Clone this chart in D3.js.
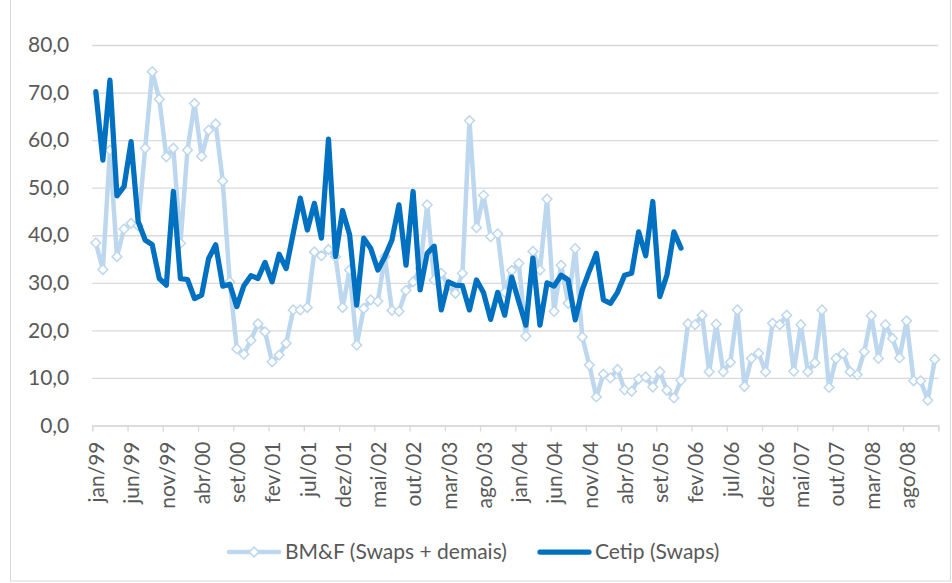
<!DOCTYPE html>
<html>
<head>
<meta charset="utf-8">
<script src="https://cdn.jsdelivr.net/npm/d3@7"></script>
<style>
  body { margin: 0; background: #fff; }
  #chart text { font-family: Lato, "Open Sans", sans-serif; fill: #595959; }
</style>
</head>
<body>
<div id="chart"></div>
<script>
// month names (pt-BR) and years -> 120 monthly categories jan/99 .. dez/08
var monthNames = ['jan', 'fev', 'mar', 'abr', 'mai', 'jun', 'jul', 'ago', 'set', 'out', 'nov', 'dez'];
var years = ['99', '00', '01', '02', '03', '04', '05', '06', '07', '08'];

var yTicks = [0, 10, 20, 30, 40, 50, 60, 70, 80];

// BM&F (Swaps + demais), jan/99 .. dez/08
var bmfValues = [
    38.4, 32.8, 57.9, 35.5, 41.3, 42.5, 42.0, 58.3, 74.4, 68.6, 56.5, 58.3,
    38.3, 57.9, 67.7, 56.6, 62.1, 63.4, 51.4, 30.2, 16.1, 15.0, 17.9, 21.4,
    19.7, 13.4, 14.8, 17.3, 24.3, 24.3, 24.8, 36.5, 35.7, 37.0, 35.5, 24.8,
    32.7, 16.9, 24.6, 26.4, 26.1, 35.5, 24.2, 24.0, 28.4, 30.2, 33.0, 46.4,
    30.6, 32.0, 29.4, 27.8, 32.0, 64.1, 41.6, 48.4, 39.7, 40.3, 28.0, 32.6,
    34.1, 18.8, 36.6, 32.7, 47.6, 24.0, 33.7, 25.7, 37.2, 18.6, 12.7, 6.0,
    10.8, 10.0, 11.8, 7.5, 7.2, 9.8, 10.2, 8.1, 11.3, 7.4, 5.8, 9.5,
    21.4, 21.2, 23.2, 11.3, 21.3, 11.3, 13.3, 24.3, 8.2, 14.1, 15.2, 11.3,
    21.5, 21.2, 23.2, 11.4, 21.2, 11.3, 13.2, 24.3, 8.0, 14.1, 15.1, 11.3,
    10.7, 15.5, 23.1, 14.1, 21.2, 18.3, 14.2, 22.0, 9.4, 9.4, 5.3, 13.9
];

// Cetip (Swaps), jan/99 .. dez/05
var cetipValues = [
    70.2, 55.8, 72.6, 48.3, 50.2, 59.7, 42.9, 39.0, 38.0, 30.9, 29.5, 49.2,
    30.9, 30.7, 26.7, 27.4, 35.1, 38.0, 29.3, 29.7, 25.0, 29.4, 31.5, 30.9,
    34.3, 30.2, 36.0, 33.0, 40.4, 47.8, 41.1, 46.7, 39.4, 60.2, 35.5, 45.2,
    40.1, 25.3, 39.4, 37.2, 32.7, 35.5, 39.0, 46.4, 33.7, 49.2, 28.5, 36.2,
    37.7, 24.3, 30.2, 29.5, 29.4, 24.3, 30.6, 27.9, 22.3, 28.0, 23.2, 31.2,
    26.0, 21.1, 35.2, 21.1, 30.0, 29.3, 31.6, 30.6, 22.2, 28.5, 32.5, 36.2,
    26.4, 25.7, 28.0, 31.6, 32.0, 40.7, 35.7, 47.1, 27.1, 31.6, 40.7, 37.3
];

var categories = [];
years.forEach(function (yy) {
    monthNames.forEach(function (m) { categories.push(m + '/' + yy); });
});

var seriesNames = ['BM&F (Swaps + demais)', 'Cetip (Swaps)'];
var lightBlue = '#BDD7EE',
    darkBlue = '#0070C0';

var width = 952,
    height = 583;

var svg = d3.select('#chart')
    .append('svg')
        .attr('width', width)
        .attr('height', height);

// outer chart border
svg.append('rect')
    .attr('x', 10.5)
    .attr('y', -2)
    .attr('width', 940)
    .attr('height', 583)
    .attr('fill', 'none')
    .attr('stroke', '#D9D9D9')
    .attr('stroke-width', 1);

var plotLeft = 92.3, plotRight = 938.3, plotTop = 45, plotBottom = 425.5;

var x = d3.scaleBand()
    .domain(categories)
    .range([plotLeft, plotRight])
    .paddingInner(0)
    .paddingOuter(0);
var xIdx = d3.scaleLinear().domain([0, categories.length]).range([plotLeft, plotRight]);
var y = d3.scaleLinear().domain([0, 80]).range([plotBottom, plotTop]);

function cx(i) { return x(categories[i]) + x.bandwidth() / 2; }

// y axis + gridlines
var yAxis = svg.append('g')
    .attr('transform', 'translate(' + plotLeft + ',0)')
    .call(d3.axisLeft(y)
        .tickValues(yTicks)
        .tickSize(-(plotRight - plotLeft))
        .tickPadding(23)
        .tickFormat(function (d) { return d3.format('.1f')(d).replace('.', ','); }));
yAxis.select('.domain').remove();
yAxis.selectAll('.tick line')
    .attr('stroke', '#D9D9D9')
    .attr('stroke-width', 1.3);
yAxis.selectAll('.tick text')
    .style('font-size', '21px');

// x axis tick marks (every 5 months, at category boundaries)
var xAxis = svg.append('g')
    .attr('transform', 'translate(0,' + plotBottom + ')')
    .call(d3.axisBottom(xIdx)
        .tickValues(d3.range(0, categories.length + 1, 5))
        .tickSize(6)
        .tickFormat(''));
xAxis.select('.domain')
    .attr('stroke', '#D9D9D9')
    .attr('stroke-width', 1.3);
xAxis.selectAll('.tick line')
    .attr('stroke', '#D9D9D9')
    .attr('stroke-width', 1.3);

// x labels, rotated, at category centers
var labelIdx = d3.range(0, categories.length, 5);
svg.append('g')
    .selectAll('text')
    .data(labelIdx)
    .enter()
    .append('text')
        .attr('transform', function (i) {
            return 'translate(' + (cx(i) + 1) + ',' + (plotBottom + 16) + ') rotate(-90)';
        })
        .attr('text-anchor', 'end')
        .attr('dy', '0.35em')
        .style('font-size', '21px')
        .text(function (i) { return categories[i]; });

// series
var line = d3.line()
    .x(function (d, i) { return cx(i); })
    .y(function (d) { return y(d); });

svg.append('path')
    .datum(bmfValues)
    .attr('d', line)
    .attr('fill', 'none')
    .attr('stroke', lightBlue)
    .attr('stroke-width', 4.5)
    .attr('stroke-linejoin', 'round')
    .attr('stroke-linecap', 'round');

var diamond = d3.symbol().type(d3.symbolDiamond2).size(60);

svg.append('g')
    .selectAll('path')
    .data(bmfValues)
    .enter()
    .append('path')
        .attr('d', diamond)
        .attr('transform', function (d, i) { return 'translate(' + cx(i) + ',' + y(d) + ')'; })
        .attr('fill', '#fff')
        .attr('stroke', lightBlue)
        .attr('stroke-width', 1.5);

svg.append('path')
    .datum(cetipValues)
    .attr('d', line)
    .attr('fill', 'none')
    .attr('stroke', darkBlue)
    .attr('stroke-width', 5.25)
    .attr('stroke-linejoin', 'round')
    .attr('stroke-linecap', 'round');

// legend
var legendY = 552;
var legend = svg.append('g');

legend.append('line')
    .attr('x1', 229).attr('x2', 279)
    .attr('y1', legendY).attr('y2', legendY)
    .attr('stroke', lightBlue)
    .attr('stroke-width', 4.5)
    .attr('stroke-linecap', 'round');
legend.append('path')
    .attr('d', diamond)
    .attr('transform', 'translate(254,' + legendY + ')')
    .attr('fill', '#fff')
    .attr('stroke', lightBlue)
    .attr('stroke-width', 1.5);
legend.append('text')
    .attr('x', 285)
    .attr('y', legendY)
    .attr('dy', '0.35em')
    .style('font-size', '21px')
    .text(seriesNames[0]);

legend.append('line')
    .attr('x1', 540).attr('x2', 589)
    .attr('y1', legendY).attr('y2', legendY)
    .attr('stroke', darkBlue)
    .attr('stroke-width', 5.25)
    .attr('stroke-linecap', 'round');
legend.append('text')
    .attr('x', 595)
    .attr('y', legendY)
    .attr('dy', '0.35em')
    .style('font-size', '21px')
    .text(seriesNames[1]);
</script>
</body>
</html>
